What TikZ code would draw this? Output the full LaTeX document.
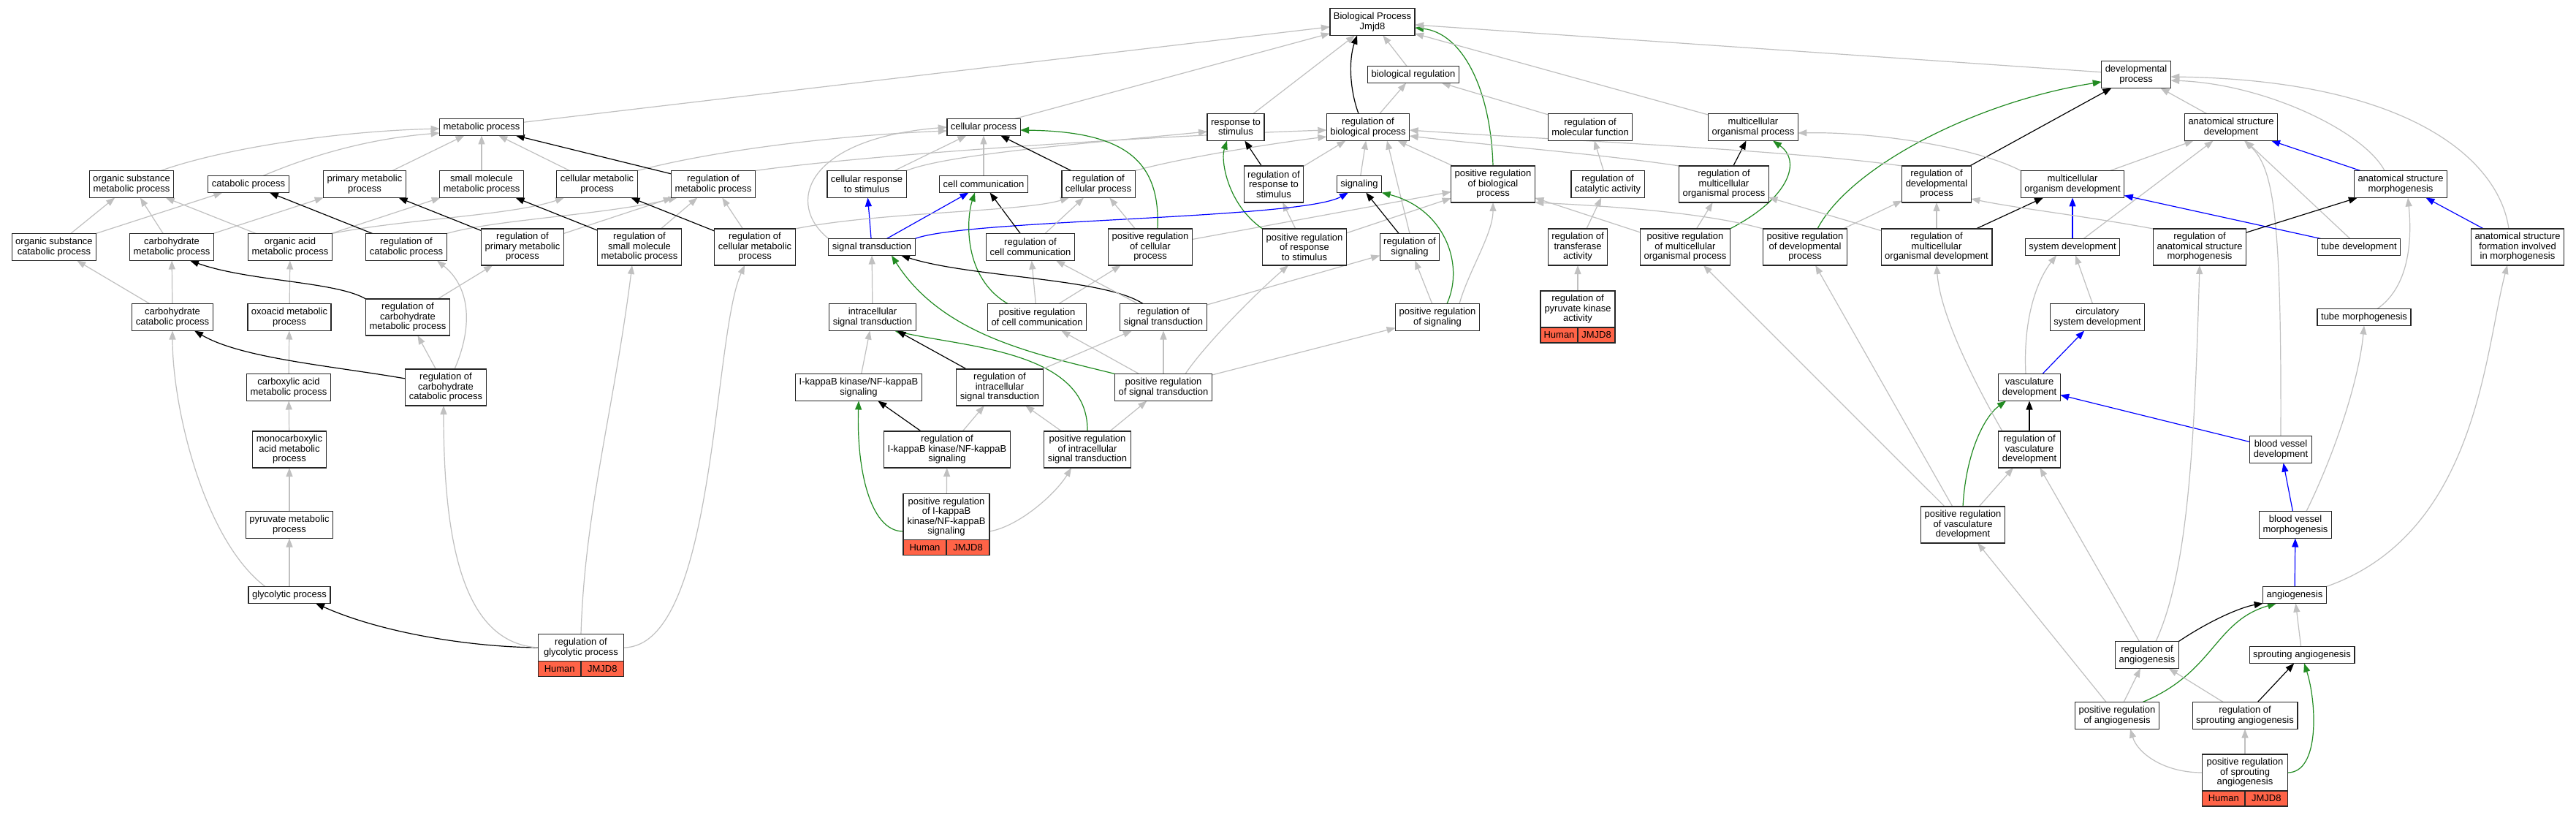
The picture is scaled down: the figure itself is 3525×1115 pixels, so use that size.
\documentclass[tikz,border=0pt]{standalone}
\usepackage{fontspec}
\setmainfont{Liberation Sans}
\usetikzlibrary{arrows.meta}
\definecolor{eg}{RGB}{192,192,192}
\definecolor{pgr}{RGB}{34,139,34}
\definecolor{pbl}{RGB}{0,0,255}
\definecolor{tom}{RGB}{255,99,71}
\pgfdeclarelayer{bg}
\pgfsetlayers{bg,main}
\begin{document}
\begin{tikzpicture}[x=1pt,y=-1pt,
  gn/.style={draw=black!85, line width=1.3pt, fill=white, font=\fontsize{13}{13.5}\selectfont, align=center, inner xsep=5pt, inner ysep=0pt, outer sep=0pt},
  lna/.style={gn, minimum height=23pt},
  lnb/.style={gn, minimum height=37pt},
  lnc/.style={gn, minimum height=50pt},
  lnd/.style={gn, minimum height=63pt},
  genecell/.style={gn, fill=tom, inner xsep=2pt, minimum height=21pt},
  edgebase/.style={line width=1.2pt, -{Triangle[length=12pt,width=9pt]}},
  isa/.style={edgebase, draw=eg},
  rg/.style={edgebase, draw=black},
  pr/.style={edgebase, draw=pgr},
  pof/.style={edgebase, draw=pbl}]
\useasboundingbox (0,0) rectangle (3525,1115);
% ---------------- nodes ----------------
\node[lnb] (BP) at (1878,30) {Biological Process\\Jmjd8};
\node[lna] (bioreg) at (1934,102) {biological regulation};
\node[lnb] (devp) at (2923,102) {developmental\\process};
\node[lna] (metab) at (659,174) {metabolic process};
\node[lna] (cellp) at (1346,174) {cellular process};
\node[lnb] (resp) at (1691,174) {response to\\stimulus};
\node[lnb] (rbp) at (1872,174) {regulation of\\biological process};
\node[lnb] (rmf) at (2176,174) {regulation of\\molecular function};
\node[lnb] (mop) at (2399,174) {multicellular\\organismal process};
\node[lnb] (asd) at (3053,174) {anatomical structure\\development};
\node[lnb] (osmp) at (180,252) {organic substance\\metabolic process};
\node[lna] (catp) at (340,252) {catabolic process};
\node[lnb] (pmp) at (499,252) {primary metabolic\\process};
\node[lnb] (smmp) at (659,252) {small molecule\\metabolic process};
\node[lnb] (cmp) at (817,252) {cellular metabolic\\process};
\node[lnb] (rmp) at (976,252) {regulation of\\metabolic process};
\node[lnb] (crs) at (1186,252) {cellular response\\to stimulus};
\node[lna] (cc) at (1346,252) {cell communication};
\node[lnb] (rcp) at (1503,252) {regulation of\\cellular process};
\node[lnc] (rrs) at (1743,252) {regulation of\\response to\\stimulus};
\node[lna] (sig) at (1860,252) {signaling};
\node[lnc] (prbp) at (2043,252) {positive regulation\\of biological\\process};
\node[lnb] (rca) at (2200,252) {regulation of\\catalytic activity};
\node[lnc] (rmop) at (2359,252) {regulation of\\multicellular\\organismal process};
\node[lnc] (rdp) at (2650,252) {regulation of\\developmental\\process};
\node[lnb] (mod) at (2836,252) {multicellular\\organism development};
\node[lnb] (asm) at (3285,252) {anatomical structure\\morphogenesis};
\node[lnb] (oscp) at (74,338) {organic substance\\catabolic process};
\node[lnb] (chmp) at (235,338) {carbohydrate\\metabolic process};
\node[lnb] (oamp) at (397,338) {organic acid\\metabolic process};
\node[lnb] (rcatp) at (556,338) {regulation of\\catabolic process};
\node[lnc] (rpmp) at (715,338) {regulation of\\primary metabolic\\process};
\node[lnc] (rsmmp) at (875,338) {regulation of\\small molecule\\metabolic process};
\node[lnc] (rcmp) at (1033,338) {regulation of\\cellular metabolic\\process};
\node[lna] (st) at (1193,338) {signal transduction};
\node[lnb] (rcc) at (1410,338) {regulation of\\cell communication};
\node[lnc] (prcp) at (1574,338) {positive regulation\\of cellular\\process};
\node[lnc] (prrs) at (1785,338) {positive regulation\\of response\\to stimulus};
\node[lnb] (rsig) at (1929,338) {regulation of\\signaling};
\node[lnc] (rta) at (2159,338) {regulation of\\transferase\\activity};
\node[lnc] (prmop) at (2306,338) {positive regulation\\of multicellular\\organismal process};
\node[lnc] (prdp) at (2470,338) {positive regulation\\of developmental\\process};
\node[lnc] (rmod) at (2650,338) {regulation of\\multicellular\\organismal development};
\node[lna] (sd) at (2836,338) {system development};
\node[lnc] (rasm) at (3010,338) {regulation of\\anatomical structure\\morphogenesis};
\node[lna] (td) at (3228,338) {tube development};
\node[lnc] (asf) at (3445,338) {anatomical structure\\formation involved\\in morphogenesis};
\node[lnb] (chcp) at (236,434) {carbohydrate\\catabolic process};
\node[lnb] (oxmp) at (396,434) {oxoacid metabolic\\process};
\node[lnc] (rchmp) at (558,434) {regulation of\\carbohydrate\\metabolic process};
\node[lnb] (ist) at (1194,434) {intracellular\\signal transduction};
\node[lnb] (prcc) at (1419,434) {positive regulation\\of cell communication};
\node[lnb] (rst) at (1592,434) {regulation of\\signal transduction};
\node[lnb] (prsig) at (1967,434) {positive regulation\\of signaling};
\node[lnc, minimum width=102pt] (rpk) at (2159,423) {regulation of\\pyruvate kinase\\activity};
\node[genecell, anchor=north east, minimum width=51pt] (rpkh) at (rpk.south) {Human};
\node[genecell, anchor=north west, minimum width=51pt] (rpkj) at (rpk.south) {JMJD8};
\node[lnb] (csd) at (2870,434) {circulatory\\system development};
\node[lna] (tm) at (3235,434) {tube morphogenesis};
\node[lnb] (camp) at (395,530) {carboxylic acid\\metabolic process};
\node[lnc] (rchcp) at (610,530) {regulation of\\carbohydrate\\catabolic process};
\node[lnb] (ikk) at (1175,530) {I-kappaB kinase/NF-kappaB\\signaling};
\node[lnc] (rist) at (1368,530) {regulation of\\intracellular\\signal transduction};
\node[lnb] (prst) at (1592,530) {positive regulation\\of signal transduction};
\node[lnb] (vd) at (2777,530) {vasculature\\development};
\node[lnc] (mcamp) at (396,615) {monocarboxylic\\acid metabolic\\process};
\node[lnc] (rikk) at (1296,615) {regulation of\\I-kappaB kinase/NF-kappaB\\signaling};
\node[lnc] (prist) at (1488,615) {positive regulation\\of intracellular\\signal transduction};
\node[lnc] (rvd) at (2777,615) {regulation of\\vasculature\\development};
\node[lnb] (bvd) at (3121,615) {blood vessel\\development};
\node[lnb] (pymp) at (396,718) {pyruvate metabolic\\process};
\node[lnd, minimum width=118pt] (prikk) at (1295,707) {positive regulation\\of I-kappaB\\kinase/NF-kappaB\\signaling};
\node[genecell, anchor=north east, minimum width=59pt] (prikkh) at (prikk.south) {Human};
\node[genecell, anchor=north west, minimum width=59pt] (prikkj) at (prikk.south) {JMJD8};
\node[lnc] (prvd) at (2686,718) {positive regulation\\of vasculature\\development};
\node[lnb] (bvm) at (3141,718) {blood vessel\\morphogenesis};
\node[lna] (glyp) at (396,814) {glycolytic process};
\node[lna] (ang) at (3140,814) {angiogenesis};
\node[lnb, minimum width=117pt] (rgly) at (795,886) {regulation of\\glycolytic process};
\node[genecell, anchor=north east, minimum width=58.5pt] (rglyh) at (rgly.south) {Human};
\node[genecell, anchor=north west, minimum width=58.5pt] (rglyj) at (rgly.south) {JMJD8};
\node[lnb] (rang) at (2938,896) {regulation of\\angiogenesis};
\node[lna] (sang) at (3150,896) {sprouting angiogenesis};
\node[lnb] (prang) at (2897,979) {positive regulation\\of angiogenesis};
\node[lnb] (rsang) at (3072,979) {regulation of\\sprouting angiogenesis};
\node[lnc, minimum width=117pt] (prsang) at (3072,1057) {positive regulation\\of sprouting\\angiogenesis};
\node[genecell, anchor=north east, minimum width=58.5pt] (prsangh) at (prsang.south) {Human};
\node[genecell, anchor=north west, minimum width=58.5pt] (prsangj) at (prsang.south) {JMJD8};
% ---------------- edges ----------------
\begin{pgfonlayer}{bg}
\fill[white] (0,0) rectangle (3525,1115);
% top level
\draw[isa] (metab) -- (BP);
\draw[isa] (cellp) -- (BP);
\draw[isa] (resp) -- (BP);
\draw[isa] (bioreg) -- (BP);
\draw[rg] ([xshift=-13pt]rbp.north) .. controls (1846,120) and (1846,80) .. ([xshift=-21pt]BP.south);
\draw[pr] (prbp.north) .. controls (2040,120) and (2000,45) .. ([yshift=-8pt]BP.east);
\draw[isa] (devp) -- (BP);
\draw[isa] (mop) -- (BP);
\draw[isa] (rbp) -- (bioreg);
\draw[isa] (rmf) -- (bioreg);
% developmental process
\draw[isa] (asd) -- (devp);
\draw[rg] (rdp) -- (devp);
\draw[pr] ([xshift=17pt]prdp.north) .. controls (2530,230) and (2700,140) .. ([yshift=-10pt]devp.west);
\draw[isa] ([xshift=-22pt]asm.north) .. controls (3235,180) and (3100,115) .. ([yshift=-8pt]devp.east);
\draw[isa] ([xshift=-12pt]asf.north) .. controls (3420,220) and (3300,110) .. ([yshift=-3pt]devp.east);
% multicellular
\draw[rg] (rmop) -- (mop);
\draw[pr] (prmop.north east) .. controls (2450,270) and (2465,220) .. ([xshift=27pt]mop.south);
\draw[isa] (mod.north west) .. controls (2700,200) and (2560,180) .. ([yshift=-8pt]mop.east);
\draw[isa] (mod) -- (asd);
\draw[pof] (asm) -- (asd);
\draw[isa] (sd) -- (asd);
\draw[isa] (td) -- (asd);
\draw[isa] (bvd.north) .. controls (3122,300) and (3112,230) .. ([xshift=18pt]asd.south);
\draw[pof] (sd) -- (mod);
\draw[rg] (rmod) -- (mod);
\draw[pof] (td) -- (mod);
\draw[rg] (rasm) -- (asm);
\draw[pof] (asf) -- (asm);
\draw[isa] ([xshift=18pt]tm.north) .. controls (3300,390) and (3300,320) .. ([xshift=10pt]asm.south);
% regulation of biological process
\draw[isa] (rdp.north west) .. controls (2450,205) and (2100,190) .. ([yshift=-4pt]rbp.east);
\draw[isa] (rmop.north west) .. controls (2200,212) and (2050,200) .. ([yshift=-12pt]rbp.east);
\draw[isa] (rmp.north east) .. controls (1200,210) and (1600,185) .. ([yshift=-4pt]rbp.west);
\draw[isa] (rcp.north east) .. controls (1620,215) and (1750,195) .. ([yshift=-13pt]rbp.west);
\draw[isa] (rrs) -- (rbp);
\draw[isa] (sig) -- (rbp);
\draw[isa] (rsig.north) -- ([xshift=26pt]rbp.south);
\draw[isa] (prbp) -- (rbp);
% positive regulation of biological process
\draw[isa] (prcp) -- (prbp);
\draw[isa] (prrs) -- (prbp);
\draw[isa] ([xshift=30pt]prsig.north) .. controls (2010,370) and (2043,320) .. (prbp.south);
\draw[isa] (prmop) -- (prbp);
\draw[isa] (prdp.north west) .. controls (2330,290) and (2200,282) .. (prbp.south east);
% cellular process
\draw[isa] (cmp.north east) .. controls (980,205) and (1150,185) .. ([yshift=-5pt]cellp.west);
\draw[isa] (st.north west) .. controls (1075,280) and (1100,190) .. ([yshift=0pt]cellp.west);
\draw[isa] (crs) -- (cellp);
\draw[isa] (crs.north east) .. controls (1300,210) and (1500,195) .. ([yshift=-6pt]resp.west);
\draw[isa] (cc) -- (cellp);
\draw[rg] (rcp) -- (cellp);
\draw[pr] ([xshift=10pt]prcp.north) .. controls (1588,220) and (1540,180) .. ([yshift=-4pt]cellp.east);
% response to stimulus
\draw[rg] (rrs) -- (resp);
\draw[pr] (prrs.north west) .. controls (1680,280) and (1670,220) .. ([xshift=-12pt]resp.south);
\draw[isa] (prrs) -- (rrs);
% signaling
\draw[pof] (st) -- (crs);
\draw[pof] (st.north east) .. controls (1320,300) and (1780,300) .. ([xshift=-15pt]sig.south);
\draw[rg] (rsig) -- (sig);
\draw[pr] ([xshift=13pt]prsig.north) .. controls (2005,360) and (1975,285) .. (sig.south east);
\draw[isa] (prsig) -- (rsig);
% cell communication
\draw[pof] (st) -- (cc);
\draw[rg] (rcc) -- (cc);
\draw[pr] ([xshift=-40pt]prcc.north) .. controls (1318,380) and (1322,300) .. ([xshift=-12pt]cc.south);
\draw[isa] (rcc) -- (rcp);
\draw[isa] (prcc) -- (rcc);
\draw[isa] (prcc) -- (prcp);
\draw[isa] (rcmp.north east) .. controls (1200,290) and (1400,290) .. ([xshift=-40pt]rcp.south);
\draw[isa] (prcp) -- (rcp);
% signal transduction
\draw[isa] (ist) -- (st);
\draw[rg] ([xshift=-28pt]rst.north) .. controls (1510,380) and (1330,380) .. ([xshift=40pt]st.south);
\draw[pr] (prst.north west) .. controls (1420,485) and (1290,460) .. ([xshift=27pt]st.south);
\draw[pr] (prist.north) .. controls (1490,480) and (1320,475) .. ([xshift=30pt]ist.south);
\draw[isa] (rst) -- (rcc);
\draw[isa] (rst) -- (rsig);
\draw[isa] (rist) -- (rst);
\draw[rg] (rist) -- (ist);
\draw[isa] (ikk) -- (ist);
\draw[isa] (prst) -- (rst);
\draw[isa] (prst) -- (prcc);
\draw[isa] (prst) -- (prsig);
\draw[isa] ([xshift=30pt]prst.north) .. controls (1650,470) and (1720,400) .. ([xshift=-22pt]prrs.south);
\draw[rg] (rikk) -- (ikk);
\draw[isa] (rikk) -- (rist);
\draw[isa] (prist) -- (rist);
\draw[isa] (prist) -- (prst);
\draw[isa] (prikk) -- (rikk);
\draw[isa] ([yshift=-20pt]prikk.east) .. controls (1395,720) and (1445,675) .. ([xshift=-22pt]prist.south);
\draw[pr] ([yshift=-20pt]prikk.west) .. controls (1190,727) and (1172,640) .. (ikk.south);
% metabolic
\draw[isa] ([xshift=40pt]osmp.north) .. controls (300,205) and (450,180) .. ([yshift=-2pt]metab.west);
\draw[isa] ([xshift=20pt]catp.north) .. controls (420,215) and (500,190) .. ([yshift=-8pt]metab.west);
\draw[isa] (pmp) -- (metab);
\draw[isa] (smmp) -- (metab);
\draw[isa] (cmp) -- (metab);
\draw[rg] (rmp) -- (metab);
\draw[isa] (oscp) -- (osmp);
\draw[isa] (oscp) -- (catp);
\draw[isa] (chmp) -- (osmp);
\draw[isa] (chmp) -- (pmp);
\draw[isa] (oamp) -- (osmp);
\draw[isa] (oamp) -- (smmp);
\draw[isa] (oamp.north east) .. controls (550,300) and (700,295) .. ([xshift=-45pt]cmp.south);
\draw[rg] (rcatp) -- (catp);
\draw[isa] (rcatp.north east) .. controls (680,300) and (820,295) .. ([xshift=8pt]rmp.south west);
\draw[rg] (rpmp) -- (pmp);
\draw[isa] (rpmp) -- (rmp);
\draw[rg] (rsmmp) -- (smmp);
\draw[isa] (rsmmp) -- (rmp);
\draw[rg] (rcmp) -- (cmp);
\draw[isa] (rcmp) -- (rmp);
\draw[isa] (chcp) -- (oscp);
\draw[isa] (chcp) -- (chmp);
\draw[isa] (oxmp) -- (oamp);
\draw[rg] (rchmp.north west) .. controls (460,385) and (340,385) .. ([xshift=25pt]chmp.south);
\draw[isa] (rchmp) -- (rpmp);
\draw[isa] (camp) -- (oxmp);
\draw[rg] ([yshift=12pt]rchcp.west) .. controls (450,500) and (330,490) .. ([xshift=30pt]chcp.south);
\draw[isa] (rchcp) -- (rchmp);
\draw[isa] ([xshift=12pt]rchcp.north) .. controls (650,440) and (640,390) .. ([xshift=42pt]rcatp.south);
\draw[isa] (mcamp) -- (camp);
\draw[isa] (pymp) -- (mcamp);
\draw[isa] (glyp) -- (pymp);
\draw[isa] ([xshift=-33pt]glyp.north) .. controls (280,740) and (236,560) .. (chcp.south);
\draw[rg] (rgly.west) .. controls (640,885) and (520,865) .. ([xshift=36pt]glyp.south);
\draw[isa] (rgly.west) .. controls (640,880) and (607,760) .. ([xshift=-3pt]rchcp.south);
\draw[isa] (rgly.north) .. controls (800,700) and (840,560) .. ([xshift=-10pt]rsmmp.south);
\draw[isa] (rgly.east) .. controls (980,885) and (975,460) .. ([xshift=-14pt]rcmp.south);
% molecular function
\draw[isa] (rca) -- (rmf);
\draw[isa] (rta) -- (rca);
\draw[isa] (rpk) -- (rta);
% development regulation
\draw[isa] (rmod) -- (rmop);
\draw[isa] (rmod) -- (rdp);
\draw[isa] (prmop) -- (rmop);
\draw[isa] (prdp) -- (rdp);
\draw[isa] (rasm.north west) .. controls (2850,295) and (2760,285) .. ([yshift=-20pt]rdp.east);
% vasculature
\draw[isa] (csd) -- (sd);
\draw[pof] (vd) -- (csd);
\draw[isa] ([xshift=-5pt]vd.north) .. controls (2768,430) and (2790,380) .. ([xshift=-22pt]sd.south);
\draw[pof] (bvd) -- (vd);
\draw[rg] (rvd) -- (vd);
\draw[pr] (prvd.north) .. controls (2690,620) and (2715,570) .. ([xshift=-32pt]vd.south);
\draw[isa] (prvd) -- (rvd);
\draw[isa] (prvd) -- (prmop);
\draw[isa] (prvd) -- (prdp);
\draw[isa] ([xshift=-37pt]rvd.north) .. controls (2700,520) and (2655,430) .. (rmod.south);
\draw[pof] (bvm) -- (bvd);
\draw[pof] (ang) -- (bvm);
\draw[isa] ([xshift=15pt]bvm.north) .. controls (3195,620) and (3228,520) .. (tm.south);
\draw[isa] (ang.north east) .. controls (3390,730) and (3400,480) .. ([xshift=-14pt]asf.south);
\draw[rg] (rang.north east) .. controls (3030,845) and (3070,830) .. (ang.south west);
\draw[isa] (rang) -- (rvd);
\draw[isa] ([xshift=12pt]rang.north) .. controls (2995,780) and (3003,600) .. (rasm.south);
\draw[isa] (prang) -- (rang);
\draw[pr] ([xshift=35pt]prang.north) .. controls (3030,920) and (3030,850) .. ([xshift=-25pt]ang.south);
\draw[isa] (prang) -- (prvd);
\draw[isa] (sang) -- (ang);
\draw[rg] (rsang) -- (sang);
\draw[isa] (rsang) -- (rang);
\draw[isa] (prsang) -- (rsang);
\draw[isa] (prsang.west) .. controls (2960,1057) and (2925,1030) .. ([xshift=18pt]prang.south);
\draw[pr] (prsang.east) .. controls (3175,1057) and (3170,960) .. ([xshift=3pt]sang.south);
\end{pgfonlayer}
\end{tikzpicture}
\end{document}
